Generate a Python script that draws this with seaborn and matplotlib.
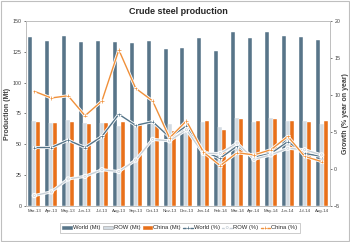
import numpy as np
import pandas as pd
import matplotlib
matplotlib.use('Agg')
import matplotlib.pyplot as plt
import matplotlib.patheffects as pe
import seaborn as sns

# 데이터
months = ['Mar-13', 'Apr-13', 'May-13', 'Jun-13', 'Jul-13', 'Aug-13', 'Sep-13', 'Oct-13', 'Nov-13',
          'Dec-13', 'Jan-14', 'Feb-14', 'Mar-14', 'Apr-14', 'May-14', 'Jun-14', 'Jul-14', 'Aug-14']
world_mt = [137.3, 134.0, 138.1, 132.7, 134.0, 132.7, 131.9, 133.8, 127.3,
            128.4, 136.5, 125.7, 141.4, 136.5, 140.8, 137.8, 137.0, 134.6]
row_mt = [68.9, 67.3, 69.7, 67.0, 67.3, 64.9, 66.5, 68.9, 66.8,
          65.9, 67.8, 63.8, 71.4, 67.8, 71.1, 68.7, 68.9, 66.2]
china_mt = [68.4, 67.0, 68.4, 66.2, 67.3, 67.8, 65.4, 64.9, 60.5,
            62.5, 68.7, 61.9, 70.3, 68.7, 70.3, 69.2, 68.1, 68.9]
world_pct = [2.9, 2.9, 3.9, 2.9, 4.4, 7.4, 5.9, 6.4, 4.3,
             5.8, 2.4, 1.45, 3.1, 1.6, 2.1, 3.7, 2.1, 1.7]
row_pct = [-3.6, -3.1, -1.35, -1.0, -0.1, -0.35, 1.2, 4.0, 3.8,
           5.3, 2.1, 2.1, 3.5, 1.3, 1.9, 2.8, 2.6, 1.9]
china_pct = [10.5, 9.6, 9.9, 7.2, 9.2, 16.1, 10.9, 9.2, 4.2,
             6.5, 2.3, 0.45, 2.2, 1.9, 2.6, 4.4, 1.7, 1.0]

bar_names = ['World (Mt)', 'ROW (Mt)', 'China (Mt)']
bar_colors = ['#587589', '#D3DBE2', '#E8701A']

sns.set_style('white')
plt.rcParams['font.family'] = ['Liberation Sans', 'DejaVu Sans']

df = pd.DataFrame({'month': months * 3,
                   'value': world_mt + row_mt + china_mt,
                   'series': sum([[n] * len(months) for n in bar_names], [])})

fig = plt.figure(figsize=(3.5, 2.42), dpi=100)
ax = fig.add_axes([0.074, 0.149, 0.869, 0.764])

sns.barplot(data=df, x='month', y='value', hue='series', palette=bar_colors,
            width=0.71, saturation=1, edgecolor='white', linewidth=0.3,
            legend=False, ax=ax)

ax.set_ylim(0, 150)
ax.set_yticks(np.arange(0, 151, 25))
ax.set_xlim(-0.5, len(months) - 0.5)
ax.set_xlabel('')
ax.set_ylabel('Production (Mt)', fontsize=5, fontweight='bold', color='#404040', labelpad=1.5)
ax.tick_params(axis='y', labelsize=3.8, colors='#404040', length=1.5, width=0.5, pad=1.5)
ax.tick_params(axis='x', labelsize=3.2, colors='#404040', length=0, pad=2.5)

ax2 = ax.twinx()
pos = np.arange(len(months))
glow = [pe.withStroke(linewidth=2.2, foreground='white')]
line_specs = [('World (%)', world_pct, '#557488', '+', 2.5),
              ('ROW (%)', row_pct, '#C9D1D8', 'o', 1.6),
              ('China (%)', china_pct, '#F0903A', '+', 2.5)]
for name, vals, col, mk, ms in line_specs:
    sns.lineplot(x=pos, y=vals, ax=ax2, color=col, linewidth=1.0, marker=mk,
                 markersize=ms, markerfacecolor='white' if mk == 'o' else col,
                 markeredgecolor=col, markeredgewidth=0.5, label=name,
                 path_effects=glow)
ax2.legend_.remove()
ax2.set_ylim(-5, 20)
ax2.set_yticks(np.arange(-5, 21, 5))
ax2.set_ylabel('Growth (% year on year)', fontsize=5, fontweight='bold', color='#404040',
               rotation=90, labelpad=1.5)
ax2.tick_params(axis='y', labelsize=3.8, colors='#404040', length=1.5, width=0.5, pad=1.5)

for a in (ax, ax2):
    for s in a.spines.values():
        s.set_color('#BFBFBF')
        s.set_linewidth(0.6)

ax.set_title('Crude steel production', fontsize=6.5, fontweight='bold', color='#262626', pad=5)

# 범례는 막대와 선을 합쳐서 아래쪽에
h1 = [plt.Rectangle((0, 0), 1, 1, facecolor=c, edgecolor='#A0A0A0' if i == 1 else c, linewidth=0.4)
      for i, c in enumerate(bar_colors)]
h2, l2 = ax2.get_legend_handles_labels()
leg = fig.legend(h1 + h2, bar_names + l2, loc='center', bbox_to_anchor=(0.514, 0.058), ncol=6,
                 fontsize=4.2, frameon=True, fancybox=False, edgecolor='#A6A6A6',
                 handlelength=1.7, handleheight=0.6, columnspacing=0.4, handletextpad=0.15,
                 borderpad=0.4, labelcolor='#262626')
leg.get_frame().set_linewidth(0.5)

fig.patches.append(plt.Rectangle((0.002, 0.003), 0.995, 0.994, transform=fig.transFigure,
                                 fill=False, edgecolor='#BFBFBF', linewidth=0.8))

fig.savefig('out.png', dpi=100)
plt.close()
